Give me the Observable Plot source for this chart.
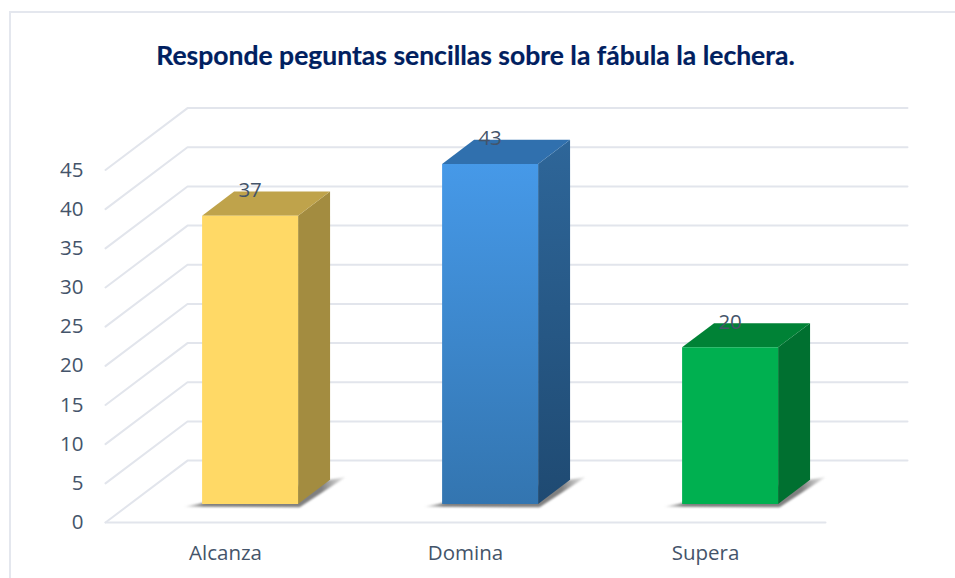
<!DOCTYPE html>
<html><head><meta charset="utf-8">
<script src="https://cdn.jsdelivr.net/npm/d3@7"></script>
<script src="https://cdn.jsdelivr.net/npm/@observablehq/plot@0.6"></script>
<style>
html,body{margin:0;padding:0;background:#fff;overflow:hidden}
#wrap{position:relative;width:955px;height:578px}
#frame{position:absolute;left:9px;top:11px;width:960px;height:580px;border:2px solid #e4e7ee;box-sizing:border-box;pointer-events:none}
#title{height:90px;box-sizing:border-box;padding-top:40px;text-align:center;padding-right:4px;font:700 26.5px Lato,sans-serif;color:#002060;line-height:30px;-webkit-text-stroke:0.2px #002060}
svg{display:block}
</style></head><body>
<div id="wrap"><div id="frame"></div><div id="title">Responde peguntas sencillas sobre la fábula la lechera.</div></div>
<script>
const titleText = "Responde peguntas sencillas sobre la fábula la lechera.";
const categories = ["Alcanza", "Domina", "Supera"];
const values = [36.8, 43.4, 20];
const valueLabels = ["37", "43", "20"];
const yTicks = [0, 5, 10, 15, 20, 25, 30, 35, 40, 45];

const frontFills = ["#FFD966", "url(#blueFront)", "#00B050"];
const topFills = ["#BFA34B", "#3070AE", "#008236"];
const sideFills = ["#A38C40", "url(#blueSide)", "#007030"];

// Oblique projection: depth 0 is the floor's front edge, depth 1 is the back wall.
const depthX = 82 / 240, depthY = 7.9;
const px = (u, d) => u + d * depthX;
const py = (v, d) => v + d * depthY;
const d0 = 0.30, d1 = 0.69, half = 0.2;

const grid = [];
yTicks.forEach(t => {
  grid.push({id: t, x: px(0, 0), y: py(t, 0)}, {id: t, x: px(0, 1), y: py(t, 1)}, {id: t, x: px(3, 1), y: py(t, 1)});
});
const floorFront = [{x: 0, y: 0}, {x: 3, y: 0}];

const poly = (id, fill, pts) => pts.map(([u, v, d]) => ({id, fill, x: px(u, d), y: py(v, d)}));
const shadows = [], faces = [];
categories.forEach((c, i) => {
  const l = i + 0.5 - half, r = i + 0.5 + half, v = values[i];
  shadows.push(...poly("s" + i, "url(#shadow)", [[l - 0.06, 0, d0 - 0.045], [l, 0, d0 + 0.02], [r, 0, d1], [r + 0.05, 0, d1 + 0.045], [r + 0.025, 0, d0 - 0.055]]));
  faces.push(...poly("side" + i, sideFills[i], [[r, 0, d0], [r, 0, d1], [r, v, d1], [r, v, d0]]));
  faces.push(...poly("top" + i, topFills[i], [[l, v, d0], [l, v, d1], [r, v, d1], [r, v, d0]]));
  faces.push(...poly("front" + i, frontFills[i], [[l, 0, d0], [r, 0, d0], [r, v, d0], [l, v, d0]]));
});
const labels = categories.map((c, i) => ({x: px(i + 0.5, d0), y: py(values[i], d1), t: valueLabels[i]}));

const defs = () => {
  const s = d3.create("svg:defs");
  const grad = (id, stops, horiz) => {
    const g = s.append("linearGradient").attr("id", id).attr("x1", 0).attr("y1", 0).attr("x2", horiz ? 1 : 0).attr("y2", horiz ? 0 : 1);
    stops.forEach(([o, col, op]) => g.append("stop").attr("offset", o).attr("stop-color", col).attr("stop-opacity", op ?? 1));
  };
  grad("blueFront", [[0, "#4699E8"], [1, "#3375B0"]]);
  grad("blueSide", [[0, "#2E6699"], [1, "#1F4A72"]]);
  grad("shadow", [[0, "#8a8a8a", 0.15], [0.12, "#808080", 1], [0.85, "#808080", 1], [1, "#8a8a8a", 0.15]], true);
  return s.node();
};

const tickColor = "#44546A", font = "'Open Sans',sans-serif";
const chart = Plot.plot({
  width: 955, height: 488,
  marginLeft: 105, marginRight: 130, marginTop: 79.5, marginBottom: 56,
  style: {fontFamily: font, background: "transparent"},
  x: {domain: [0, 3], axis: null},
  y: {domain: [0, 45], axis: null},
  color: {type: "identity"},
  marks: [
    defs,
    Plot.line(grid, {x: "x", y: "y", z: "id", stroke: "#E2E5EC", strokeWidth: 2}),
    Plot.line(floorFront, {x: "x", y: "y", stroke: "#E2E5EC", strokeWidth: 2}),
    Plot.line(shadows, {x: "x", y: "y", z: "id", fill: "fill", stroke: null, imageFilter: "blur(1px)"}),
    Plot.line(faces, {x: "x", y: "y", z: "id", fill: "fill", stroke: null}),
    Plot.text(labels, {x: "x", y: "y", dy: -1, text: "t", fontSize: 20.5, fill: tickColor}),
    Plot.axisY({ticks: yTicks, tickSize: 0, tickPadding: 22, fontSize: 20.5, color: tickColor, label: null}),
    Plot.axisX({ticks: [0.5, 1.5, 2.5], tickFormat: u => categories[u - 0.5], tickSize: 0, tickPadding: 23, fontSize: 20.5, color: tickColor, label: null})
  ]
});
document.getElementById("wrap").appendChild(chart);
document.getElementById("title").textContent = titleText;
</script>
</body></html>
